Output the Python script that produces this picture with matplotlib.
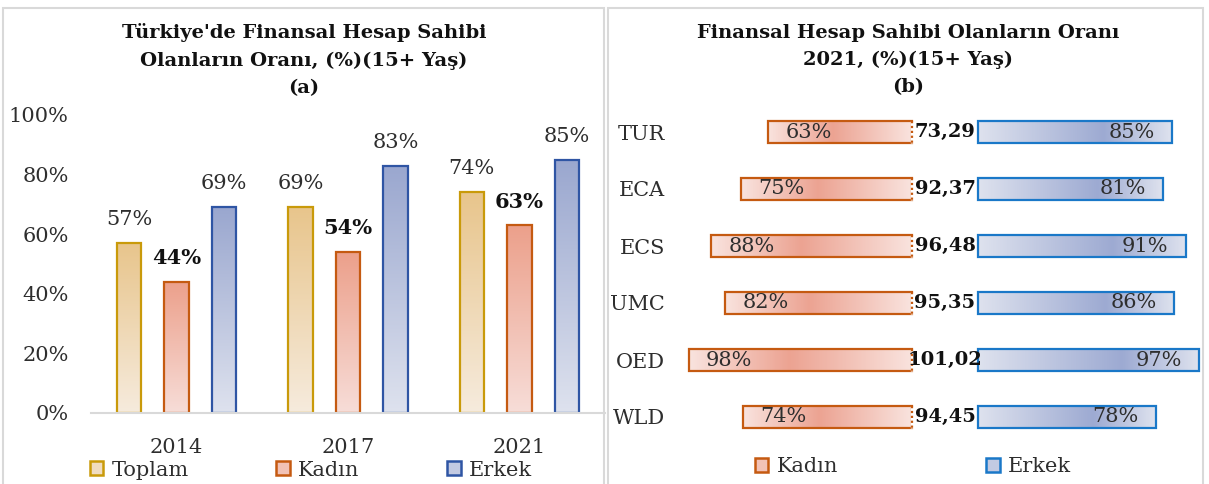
import numpy as np
import matplotlib.pyplot as plt
from matplotlib.colors import LinearSegmentedColormap
from matplotlib.patches import Patch, Rectangle

plt.rcParams['font.family'] = ['DejaVu Serif']

# left chart data (a)
years = ['2014', '2017', '2021']
toplam = [57, 69, 74]
kadin = [44, 54, 63]
erkek = [69, 83, 85]

# right chart data (b)
countries = ['TUR', 'ECA', 'ECS', 'UMC', 'OED', 'WLD']
kadin_21 = [63, 75, 88, 82, 98, 74]
erkek_21 = [85, 81, 91, 86, 97, 78]
oran = ['73,29', '92,37', '96,48', '95,35', '101,02', '94,45']

txt = '#2E2E2E'
gold = '#C99A0A'
orange = '#C55A11'
navy = '#2F55A4'
blue = '#1A78C8'


def fill_grad(ax, bar, colors, vertical=True):
    # gradient image clipped to the bar outline
    x0, y0 = bar.get_x(), bar.get_y()
    w, h = bar.get_width(), bar.get_height()
    cmap = LinearSegmentedColormap.from_list('g', colors)
    if vertical:
        img = np.linspace(0, 1, 200).reshape(-1, 1)
    else:
        img = np.linspace(0, 1, 200).reshape(1, -1)
    im = ax.imshow(img, cmap=cmap, extent=(x0, x0 + w, y0, y0 + h),
                   origin='lower', aspect='auto', zorder=1)
    im.set_clip_path(bar)


fig = plt.figure(figsize=(12.09, 4.84), dpi=100)

# panel frames
fig.add_artist(Rectangle((3 / 1209, -0.05), 601 / 1209, 1.05 - 8 / 484,
                         transform=fig.transFigure, fill=False,
                         edgecolor='#D9D9D9', lw=1.5))
fig.add_artist(Rectangle((608 / 1209, -0.05), 595 / 1209, 1.05 - 8 / 484,
                         transform=fig.transFigure, fill=False,
                         edgecolor='#D9D9D9', lw=1.5))

# ---------- (a) ----------
ax1 = fig.add_axes([91 / 1209, 71 / 484, 514 / 1209, 298 / 484])
x = np.arange(len(years))
bw = 0.143
off = 0.277
series = [
    (toplam, ['#F6EBDD', '#E8C58C'], gold, 'normal'),
    (kadin, ['#F7DDD8', '#ECA08B'], orange, 'bold'),
    (erkek, ['#DEE2EE', '#9AA7CF'], navy, 'normal'),
]
for i, (vals, cols, edge, weight) in enumerate(series):
    bars = ax1.bar(x + (i - 1) * off, vals, bw, facecolor='none',
                   edgecolor=edge, linewidth=1.6, zorder=2)
    for b, v in zip(bars, vals):
        fill_grad(ax1, b, cols, vertical=True)
        ax1.annotate(f'{v}%', (b.get_x() + bw / 2, v), xytext=(0, 17),
                     textcoords='offset points', ha='center', va='center',
                     fontsize=15, fontweight=weight, color=txt if weight == 'normal' else '#111111')

ax1.set_xlim(-0.5, 2.5)
ax1.set_ylim(0, 100)
ax1.set_xticks(x)
ax1.set_xticklabels(years, fontsize=15, color=txt)
ax1.set_yticks(range(0, 101, 20))
ax1.set_yticklabels([f'{t}%' for t in range(0, 101, 20)], fontsize=15, color=txt)
ax1.tick_params(length=0)
ax1.tick_params(axis='y', pad=16)
ax1.tick_params(axis='x', pad=18)
for s in ['top', 'right', 'left']:
    ax1.spines[s].set_visible(False)
ax1.spines['bottom'].set_color('#D9D9D9')
ax1.spines['bottom'].set_linewidth(1.5)
ax1.spines['bottom'].set_zorder(3)

fig.text(304 / 1209, 1 - 60 / 484,
         "Türkiye'de Finansal Hesap Sahibi\nOlanların Oranı, (%)(15+ Yaş)\n(a)",
         ha='center', va='center', fontsize=14, fontweight='bold',
         color='#111111', linespacing=1.65)

leg_a = [Patch(facecolor='#F0DCC0', edgecolor=gold, lw=1.8, label='Toplam'),
         Patch(facecolor='#F2C2B6', edgecolor=orange, lw=1.8, label='Kadın'),
         Patch(facecolor='#C3CAE2', edgecolor=navy, lw=1.8, label='Erkek')]
fig.legend(handles=leg_a, loc='center', bbox_to_anchor=(311 / 1209, 1 - 470 / 484),
           ncol=3, frameon=False, fontsize=15, handlelength=0.65,
           handleheight=0.65, handletextpad=0.4, columnspacing=4.2,
           borderpad=0, labelcolor=txt)

# ---------- (b) ----------
ax2 = fig.add_axes([680 / 1209, 38.5 / 484, 525 / 1209, 342 / 484])
gap = 29
y = np.arange(len(countries))
bh = 0.386

kb = ax2.barh(y, kadin_21, bh, left=[-k for k in kadin_21], facecolor='none',
              edgecolor=orange, linewidth=1.6, zorder=2)
eb = ax2.barh(y, erkek_21, bh, left=gap, facecolor='none',
              edgecolor=blue, linewidth=1.6, zorder=2)
for b, v, yy in zip(kb, kadin_21, y):
    fill_grad(ax2, b, [(0, '#F9E3DE'), (0.45, '#ECA392'), (1, '#F9E3DE')], vertical=False)
    # dotted inner edge
    ax2.vlines(0, yy - bh / 2, yy + bh / 2, color='white', lw=2.4, zorder=3)
    ax2.vlines(0, yy - bh / 2, yy + bh / 2, color=orange, lw=1.6,
               linestyles=(0, (1, 1.2)), zorder=4)
    ax2.annotate(f'{v}%', (-v, yy), xytext=(29, 0), textcoords='offset points',
                 ha='center', va='center', fontsize=15, color=txt, zorder=5)
for b, v, yy in zip(eb, erkek_21, y):
    fill_grad(ax2, b, [(0, '#DEE2EE'), (0.65, '#9DAAD2'), (1, '#DEE2EE')], vertical=False)
    ax2.annotate(f'{v}%', (gap + v, yy), xytext=(-29, 0), textcoords='offset points',
                 ha='center', va='center', fontsize=15, color=txt, zorder=5)
for o, yy in zip(oran, y):
    ax2.text(gap / 2, yy, o, ha='center', va='center', fontsize=14,
             fontweight='bold', color='#111111', zorder=6)

ax2.set_xlim(-(912 - 680) / 2.28, (1205 - 912) / 2.28)
ax2.set_ylim(len(countries) - 0.5, -0.5)
ax2.set_xticks([])
ax2.set_yticks(y)
ax2.set_yticklabels(countries, fontsize=15, color=txt)
ax2.tick_params(length=0, axis='y', pad=11)
for s in ax2.spines.values():
    s.set_visible(False)

fig.text(908 / 1209, 1 - 60 / 484,
         "Finansal Hesap Sahibi Olanların Oranı\n2021, (%)(15+ Yaş)\n(b)",
         ha='center', va='center', fontsize=14, fontweight='bold',
         color='#111111', linespacing=1.65)

leg_b = [Patch(facecolor='#F2C2B6', edgecolor=orange, lw=1.8, label='Kadın'),
         Patch(facecolor='#C3CAE2', edgecolor=blue, lw=1.8, label='Erkek')]
fig.legend(handles=leg_b, loc='center', bbox_to_anchor=(913 / 1209, 1 - 467 / 484),
           ncol=2, frameon=False, fontsize=15, handlelength=0.65,
           handleheight=0.65, handletextpad=0.4, columnspacing=7.1,
           borderpad=0, labelcolor=txt)

fig.savefig('out.png', dpi=100)
